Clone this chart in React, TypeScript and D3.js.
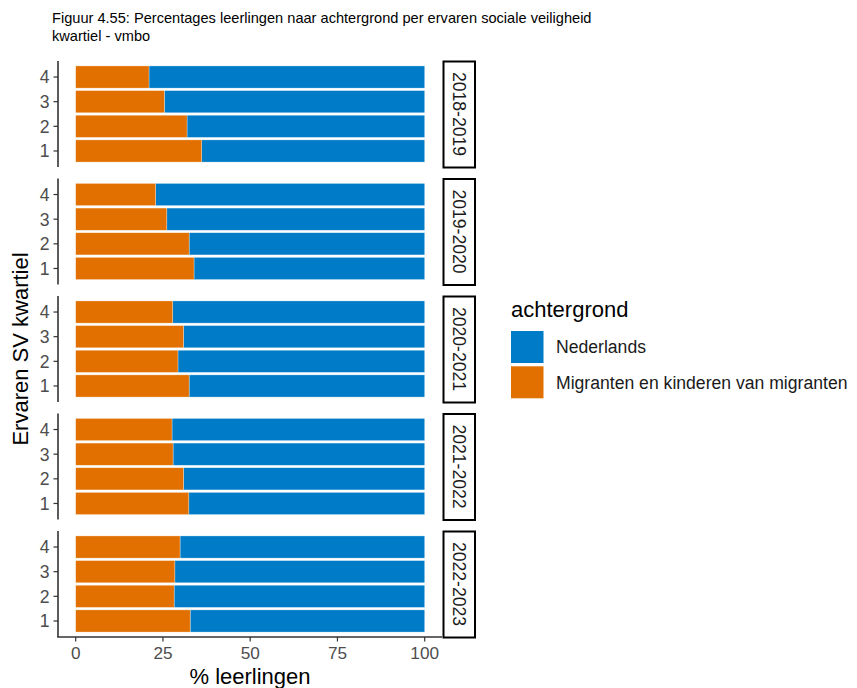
import React from "react";
import * as d3 from "d3";

const years = ["2018-2019", "2019-2020", "2020-2021", "2021-2022", "2022-2023"];
const quartiles = ["1", "2", "3", "4"];
// % Migranten en kinderen van migranten per quartile (1..4) per year
const migranten = [
  [36.1, 31.9, 25.4, 21.0],
  [33.9, 32.5, 26.1, 22.9],
  [32.5, 29.3, 30.9, 27.8],
  [32.4, 30.9, 27.9, 27.6],
  [32.8, 28.2, 28.4, 29.9],
];
const seriesNames = ["Nederlands", "Migranten en kinderen van migranten"];
const seriesColors = ["#007BC7", "#E17000"];
const xTicks = [0, 25, 50, 75, 100];

const W = 857;
const H = 688;
const FONT = "'Liberation Sans', Arial, sans-serif";

export default function App() {
  const x = d3.scaleLinear().domain([0, 100]).range([75.7, 424.7]);
  const panelTop0 = 61;
  const panelStep = 117.5;
  const panelH = 106;
  const plotLeft = 58;
  const plotRight = 442;
  const stripX = 443.5;
  const stripW = 31.5;

  const panels = years.map((yr, i) => {
    const top = panelTop0 + i * panelStep;
    const y = d3
      .scaleBand()
      .domain([...quartiles].reverse())
      .range([top, top + panelH])
      .paddingInner(0.1)
      .paddingOuter(0.2);
    return { yr, i, top, y };
  });

  const lastBottom = panelTop0 + 4 * panelStep + panelH;

  return (
    <svg
      width={W}
      height={H}
      style={{ position: "absolute", left: 0, top: 0, display: "block", background: "#fff" }}
      fontFamily={FONT}
    >
      <text x={52} y={23} fontSize={14.6} fill="#000">
        Figuur 4.55: Percentages leerlingen naar achtergrond per ervaren sociale veiligheid
      </text>
      <text x={52} y={41} fontSize={14.6} fill="#000">
        kwartiel - vmbo
      </text>

      {panels.map(({ yr, i, top, y }) => (
        <g key={yr}>
          {quartiles.map((q, qi) => {
            const m = migranten[i][qi];
            const by = y(q)!;
            const bh = y.bandwidth();
            return (
              <g key={q}>
                <rect x={x(m)} y={by} width={x(100) - x(m)} height={bh} fill={seriesColors[0]} stroke="#ffffff" strokeOpacity={0.5} strokeWidth={0.6} />
                <rect x={x(0)} y={by} width={x(m) - x(0)} height={bh} fill={seriesColors[1]} stroke="#ffffff" strokeOpacity={0.5} strokeWidth={0.6} />
              </g>
            );
          })}
          {/* y axis */}
          <line x1={plotLeft} x2={plotLeft} y1={top} y2={top + panelH} stroke="#333" strokeWidth={1.6} />
          {quartiles.map((q) => {
            const cy = y(q)! + y.bandwidth() / 2;
            return (
              <g key={q}>
                <line x1={plotLeft - 4.5} x2={plotLeft} y1={cy} y2={cy} stroke="#333" strokeWidth={1.2} />
                <text x={plotLeft - 8.5} y={cy} dy="0.36em" textAnchor="end" fontSize={17.6} fill="#4d4d4d">
                  {q}
                </text>
              </g>
            );
          })}
          {/* strip */}
          <rect x={stripX} y={top + 0.5} width={stripW} height={panelH} fill="#fff" stroke="#000" strokeWidth={2} />
          <text
            transform={`translate(${stripX + stripW / 2},${top + panelH / 2}) rotate(90)`}
            textAnchor="middle"
            dy="0.36em"
            fontSize={17.6}
            fill="#1a1a1a"
          >
            {yr}
          </text>
        </g>
      ))}

      {/* x axis */}
      <line x1={plotLeft - 0.8} x2={plotRight} y1={lastBottom} y2={lastBottom} stroke="#333" strokeWidth={1.6} />
      {xTicks.map((t) => (
        <g key={t}>
          <line x1={x(t)} x2={x(t)} y1={lastBottom} y2={lastBottom + 4.5} stroke="#333" strokeWidth={1.2} />
          <text x={x(t)} y={653} dy="0.36em" textAnchor="middle" fontSize={17.2} fill="#4d4d4d">
            {t}
          </text>
        </g>
      ))}
      <text x={250} y={684} textAnchor="middle" fontSize={22} fill="#000">
        % leerlingen
      </text>
      <text
        transform={`translate(27.5,349) rotate(-90)`}
        textAnchor="middle"
        fontSize={22}
        fill="#000"
      >
        Ervaren SV kwartiel
      </text>

      {/* legend */}
      <text x={511} y={317} fontSize={22} fill="#000">
        achtergrond
      </text>
      {seriesNames.map((s, k) => (
        <g key={s}>
          <rect x={511} y={331 + k * 35.3} width={32.5} height={32} fill={seriesColors[k]} />
          <text x={556} y={347 + k * 35.3} dy="0.36em" fontSize={17.6} fill="#1a1a1a">
            {s}
          </text>
        </g>
      ))}
    </svg>
  );
}
